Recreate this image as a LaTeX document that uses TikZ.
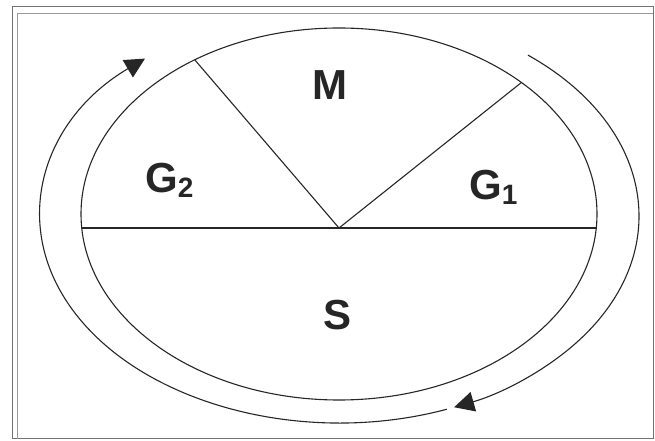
\documentclass[tikz,border=0pt]{standalone}
\usepackage{fontspec}
\setmainfont{Liberation Sans}
\usetikzlibrary{arrows.meta,calc}
\begin{document}
\begin{tikzpicture}[x=1pt,y=1pt,
  ln/.style={line width=1.1pt, draw=black!85},
  frm/.style={line width=1pt, draw=black!55},
  lbl/.style={font=\fontsize{42}{42}\selectfont\bfseries, text=black!85, inner sep=0pt, anchor=base},
  sub/.style={},
  arr/.style={ln, -{Triangle[length=20pt,width=20pt]}}]
\useasboundingbox (0,0) rectangle (655,441);
% frame
\draw[frm] (12,2) rectangle (653,434);
\draw[frm, draw=black!40] (17,2) -- (17,427) -- (653,427);
% inner ellipse
\coordinate (C) at (339,227);
\draw[ln] (C) ellipse [x radius=258, y radius=186];
\coordinate (hub) at (339,213);
\coordinate (L) at (81.7,213);
\coordinate (R) at (596.3,213);
\coordinate (g2e) at ($(C)+(124:258 and 186)$);
\coordinate (g1e) at ($(C)+(45:258 and 186)$);
\draw[ln] (L) -- (R);
\draw[ln] (hub) -- (g2e);
\draw[ln] (hub) -- (g1e);
% outer arcs
\coordinate (O) at (339.5,225);
\coordinate (a1) at ($(O)+(51:299.5 and 207)$);
\coordinate (a2) at ($(O)+(-69:299.5 and 207)$);
\draw[arr] (a1) arc[start angle=51, end angle=-67.5, x radius=299.5, y radius=207];
\draw[arr] (a2) arc[start angle=-69, end angle=-229.5, x radius=299.5, y radius=207];
% labels
\node[lbl] (M) at (330,341) {M};
\node[lbl, anchor=base west] (G2) at (145,248) {G\raisebox{-5pt}{\fontsize{28}{28}\selectfont 2}};
\node[lbl, anchor=base west] (G1) at (469,241) {G\raisebox{-5pt}{\fontsize{28}{28}\selectfont 1}};
\node[lbl] (S) at (338,111) {S};
\end{tikzpicture}
\end{document}
